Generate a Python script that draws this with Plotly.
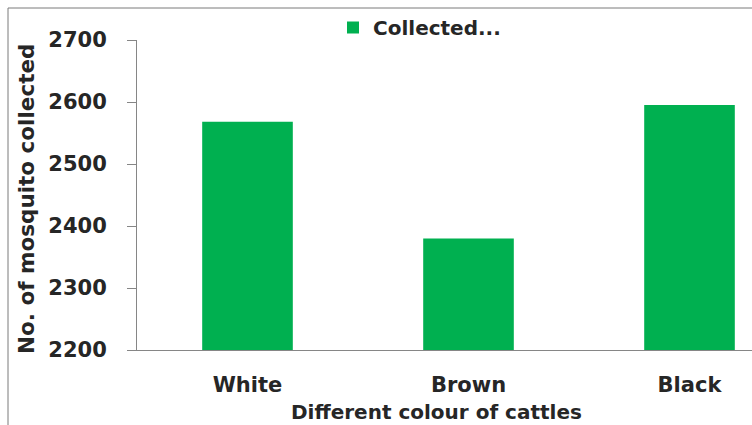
import plotly.graph_objects as go

# Mosquito counts per cattle coat colour
categories = ["White", "Brown", "Black"]
collected = [2568, 2380, 2595]
series_name = "Collected..."

y_ticks = [2200, 2300, 2400, 2500, 2600, 2700]

W, H = 752, 425
L, R, T, B = 137, 0, 40, 75
plot_w = W - L - R
plot_h = H - T - B

def px_x(p):
    return (p - L) / plot_w

def px_y(p):
    return (H - B - p) / plot_h

text_color = "#262626"
axis_color = "#868686"
font_family = "DejaVu Sans"

fig = go.Figure()
fig.add_trace(go.Bar(
    x=categories,
    y=collected,
    name=series_name,
    marker=dict(color="#00B050", line=dict(width=0)),
    showlegend=True,
))

fig.update_layout(
    width=W,
    height=H,
    margin=dict(l=L, r=R, t=T, b=B, pad=0),
    paper_bgcolor="white",
    plot_bgcolor="white",
    bargap=0.59,
    font=dict(family=font_family, color=text_color),
    showlegend=True,
    legend=dict(
        orientation="h",
        x=px_x(333), xanchor="left",
        y=px_y(8), yanchor="top",
        font=dict(family=font_family, size=20, color=text_color, weight="bold"),
        bgcolor="rgba(0,0,0,0)",
    ),
    xaxis=dict(
        type="category",
        range=[-0.5, (W - R - L) / 221 - 0.5],
        showline=True,
        linecolor=axis_color,
        linewidth=1,
        ticks="",
        showgrid=False,
        zeroline=False,
        tickfont=dict(family=font_family, size=21, color=text_color, weight="bold"),
        ticklabelstandoff=16,
    ),
    yaxis=dict(
        range=[2200, 2700],
        tickvals=y_ticks,
        ticktext=[str(v) for v in y_ticks],
        showline=True,
        linecolor=axis_color,
        linewidth=1,
        ticks="outside",
        ticklen=9,
        tickcolor=axis_color,
        showgrid=False,
        zeroline=False,
        tickfont=dict(family=font_family, size=21, color=text_color, weight="bold"),
        ticklabelstandoff=16,
    ),
    annotations=[
        dict(
            text="No. of mosquito collected",
            xref="paper", yref="paper",
            x=px_x(26), y=px_y(199),
            xanchor="center", yanchor="middle",
            textangle=-90, showarrow=False,
            font=dict(family=font_family, size=21.5, color=text_color, weight="bold"),
        ),
        dict(
            text="Different colour of cattles",
            xref="paper", yref="paper",
            x=px_x(436), y=px_y(412),
            xanchor="center", yanchor="middle",
            showarrow=False,
            font=dict(family=font_family, size=20, color=text_color, weight="bold"),
        ),
    ],
    shapes=[
        # chart-area frame (left and top edges)
        dict(
            type="path",
            xref="paper", yref="paper",
            path=f"M {px_x(8)},{px_y(H + 5)} L {px_x(8)},{px_y(8)} L {px_x(W + 5)},{px_y(8)}",
            line=dict(color="#7a7a7a", width=1),
        ),
    ],
)

fig.write_html("out.html")
